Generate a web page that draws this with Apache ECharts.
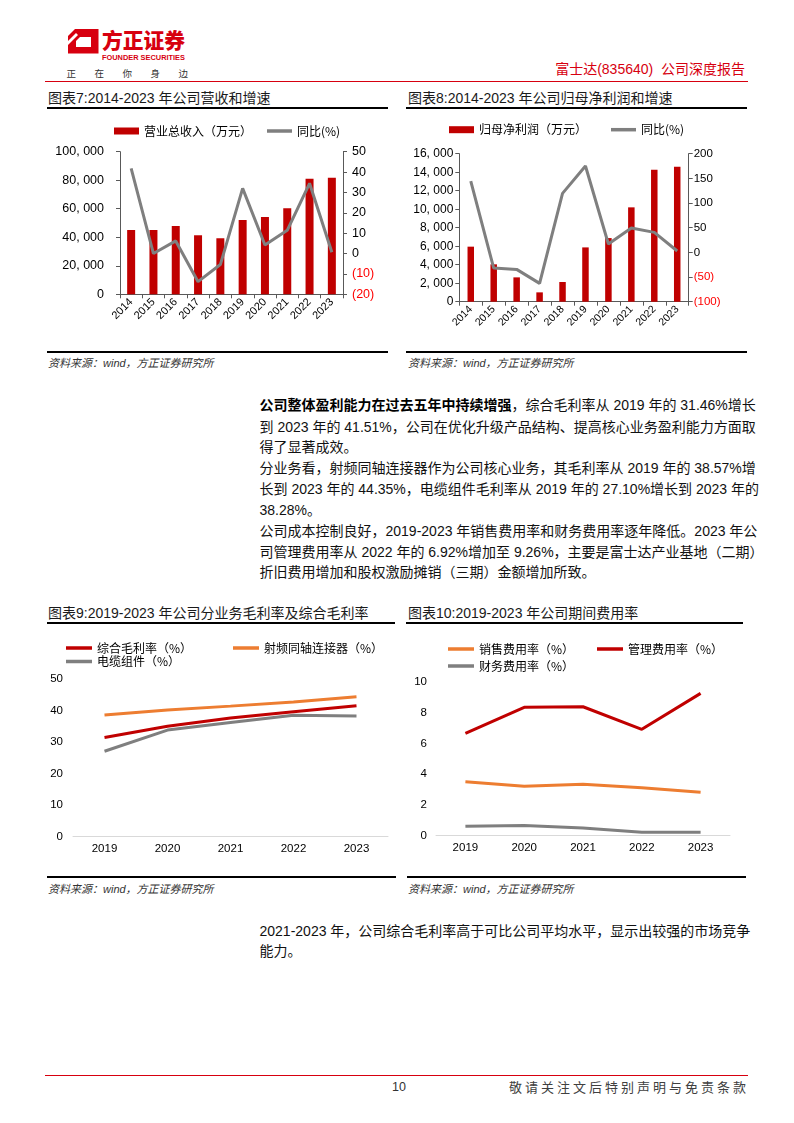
<!DOCTYPE html>
<html><head><meta charset="utf-8">
<script src="https://cdn.jsdelivr.net/npm/echarts@6/dist/echarts.min.js"></script>
<style>
html,body{margin:0;padding:0;background:#fff;}
#page{position:relative;width:794px;height:1123px;overflow:hidden;font-family:"Liberation Sans Narrow","Liberation Sans","Noto Sans CJK SC",sans-serif;color:#000;}
.abs{position:absolute;white-space:nowrap;}
.hl{position:absolute;background:#000;}
.title{font-size:14px;line-height:18px;color:#1a1a1a;}
.src{font-size:11px;font-style:italic;color:#333;line-height:14px;font-family:"Liberation Sans","Noto Sans CJK SC",sans-serif;}
.p{position:absolute;left:259.5px;width:487px;font-size:14px;line-height:20px;white-space:nowrap;text-align:justify;text-align-last:justify;color:#111;}
.p.last{text-align:left;text-align-last:left;}
.p b{font-weight:700;color:#000;}
.num{font-family:"Liberation Sans",sans-serif;}
#chart{position:absolute;left:0;top:0;width:794px;height:1123px;}
</style></head>
<body>
<div id="page">
  <svg class="abs" style="left:0;top:0" width="260" height="90">
    <polygon points="75,29 98.5,29 98.5,53.5 68,53.5 68,36" fill="#D7000F"/>
    <polygon points="80,37 91,37 91,47 76,47 76,41" fill="#fff"/>
    <polygon points="68,41 76,33 78,35 68,45" fill="#fff"/>
    <text x="102" y="48" font-size="21" font-weight="900" fill="#D7000F" textLength="83" lengthAdjust="spacingAndGlyphs" font-family="Noto Sans CJK SC">方正证券</text>
    <text x="102" y="60" font-size="7.5" font-weight="700" fill="#D7000F" textLength="83" lengthAdjust="spacingAndGlyphs" font-family="Liberation Sans">FOUNDER SECURITIES</text>
    <text y="77" font-size="9.5" fill="#333" font-family="Noto Sans CJK SC"><tspan x="66.5">正</tspan><tspan x="94.5">在</tspan><tspan x="122.5">你</tspan><tspan x="150.5">身</tspan><tspan x="178.5">边</tspan></text>
  </svg>
  <div class="abs" style="right:49px;top:60px;font-size:14px;line-height:18px;color:#D7000F;font-family:'Liberation Sans','Noto Sans CJK SC',sans-serif;">富士达(835640)&nbsp;&nbsp;公司深度报告</div>
  <div class="hl" style="left:45px;top:80.5px;width:703px;height:1.3px;background:#D7000F"></div>

  <div class="abs title" style="left:48px;top:89px">图表7:2014-2023 年公司营收和增速</div>
  <div class="abs title" style="left:408px;top:89px">图表8:2014-2023 年公司归母净利润和增速</div>
  <div class="hl" style="left:47px;top:106.7px;width:341px;height:2px"></div>
  <div class="hl" style="left:406px;top:106.7px;width:341px;height:2px"></div>

  <div class="hl" style="left:47px;top:350.7px;width:341px;height:2px"></div>
  <div class="hl" style="left:406px;top:350.7px;width:341px;height:2px"></div>
  <div class="abs src" style="left:48px;top:356px">资料来源：wind，方正证券研究所</div>
  <div class="abs src" style="left:408px;top:356px">资料来源：wind，方正证券研究所</div>

  <div class="p" style="top:395px"><b>公司整体盈利能力在过去五年中持续增强</b>，综合毛利率从 2019 年的 31.46%增长</div>
  <div class="p" style="top:416.7px">到 2023 年的 41.51%，公司在优化升级产品结构、提高核心业务盈利能力方面取</div>
  <div class="p last" style="top:437.3px">得了显著成效。</div>
  <div class="p" style="top:458.3px">分业务看，射频同轴连接器作为公司核心业务，其毛利率从 2019 年的 38.57%增</div>
  <div class="p" style="top:479.3px">长到 2023 年的 44.35%，电缆组件毛利率从 2019 年的 27.10%增长到 2023 年的</div>
  <div class="p last" style="top:500px">38.28%。</div>
  <div class="p" style="top:521px">公司成本控制良好，2019-2023 年销售费用率和财务费用率逐年降低。2023 年公</div>
  <div class="p" style="top:541.7px">司管理费用率从 2022 年的 6.92%增加至 9.26%，主要是富士达产业基地（二期）</div>
  <div class="p last" style="top:561.7px">折旧费用增加和股权激励摊销（三期）金额增加所致。</div>

  <div class="abs title" style="left:48px;top:604px">图表9:2019-2023 年公司分业务毛利率及综合毛利率</div>
  <div class="abs title" style="left:408px;top:604px">图表10:2019-2023 年公司期间费用率</div>
  <div class="hl" style="left:47px;top:622.3px;width:348px;height:2px"></div>
  <div class="hl" style="left:406px;top:622.3px;width:337px;height:2px"></div>

  <div class="hl" style="left:47px;top:876px;width:349px;height:2px"></div>
  <div class="hl" style="left:407px;top:876px;width:339px;height:2px"></div>
  <div class="abs src" style="left:48px;top:882px">资料来源：wind，方正证券研究所</div>
  <div class="abs src" style="left:408px;top:882px">资料来源：wind，方正证券研究所</div>

  <div class="p" style="top:921px">2021-2023 年，公司综合毛利率高于可比公司平均水平，显示出较强的市场竞争</div>
  <div class="p last" style="top:941px">能力。</div>

  <div class="hl" style="left:45px;top:1074.5px;width:703px;height:1.3px;background:#D7000F"></div>
  <div class="abs num" style="left:392px;top:1079px;font-size:12.5px;line-height:16px;color:#333;">10</div>
  <div class="abs" style="right:45px;top:1078px;font-size:13px;line-height:18px;letter-spacing:3px;color:#404040;font-family:'Noto Sans CJK SC',sans-serif;">敬请关注文后特别声明与免责条款</div>

  <div id="chart"></div>
</div>
<script>
// ---- data ----
const years10 = ['2014','2015','2016','2017','2018','2019','2020','2021','2022','2023'];
const revenue = [45100, 45100, 47900, 41400, 39300, 52100, 54200, 60300, 81100, 81800];
const revenueYoY = [41.8, 0.0, 6.2, -13.8, -5.4, 32.0, 4.2, 11.4, 34.5, 0.6];
const netProfit = [5950, 4040, 2630, 1010, 2130, 5870, 6880, 10200, 14270, 14600];
const netProfitYoY = [144.6, -31.8, -34.5, -62.8, 119.6, 175.0, 17.0, 49.3, 40.5, 2.7];

const years5 = ['2019','2020','2021','2022','2023'];
const grossMargin = [31.46, 35.0, 37.6, 39.6, 41.51];
const rfMargin = [38.57, 40.2, 41.4, 42.7, 44.35];
const cableMargin = [27.10, 33.8, 36.2, 38.5, 38.28];
const sellingRate = [3.51, 3.21, 3.34, 3.12, 2.82];
const adminRate = [6.66, 8.35, 8.39, 6.92, 9.26];
const financeRate = [0.61, 0.67, 0.50, 0.22, 0.22];

const revAxis = {min: 0, max: 100000, interval: 20000};
const revYoYAxis = {min: -20, max: 50, interval: 10};
const npAxis = {min: 0, max: 16000, interval: 2000};
const npYoYAxis = {min: -100, max: 200, interval: 50};
const marginAxis = {min: 0, max: 50, interval: 10};
const rateAxis = {min: 0, max: 10, interval: 2};

// ---- styles ----
const FONT = '"Liberation Sans", "Noto Sans CJK SC", sans-serif';
const CJK = '"Noto Sans CJK SC", sans-serif';
const RED = '#C00000', GRAY = '#7F7F7F', ORANGE = '#ED7D31', AX = '#595959';

function thousands(v){
  const n = Number(v);
  if (n === 0) return '0';
  return n.toLocaleString('en-US').replace(/,/g, ', ');
}
function paren(v){ const n = Number(v); return n < 0 ? '(' + (-n) + ')' : String(n); }
function parenColor(v){ return Number(v) < 0 ? '#FF0000' : '#000'; }

function lg(name, left, cy, w, h, color){
  return {show: true, left: left, top: cy - 8, padding: 0, itemWidth: w, itemHeight: h,
    icon: 'rect', itemGap: 0, selectedMode: false,
    itemStyle: {borderWidth: 0},
    data: [{name: name, itemStyle: {color: color, borderWidth: 0}}],
    textStyle: {fontSize: 12, color: '#000', fontFamily: CJK}};
}
function catAxis(grid, data, extra){
  return Object.assign({type: 'category', gridIndex: grid, data: data, boundaryGap: true,
    axisLine: {show: true, onZero: false, lineStyle: {color: AX, width: 1}},
    axisTick: {show: true, length: 4, alignWithLabel: false, lineStyle: {color: AX}},
    axisLabel: {interval: 0, rotate: 45, fontSize: 11, color: '#000', margin: 6, fontFamily: FONT},
    splitLine: {show: false}}, extra || {});
}
function valAxis(grid, r, pos, label, line){
  return {type: 'value', gridIndex: grid, position: pos, min: r.min, max: r.max, interval: r.interval,
    axisLine: {show: line, lineStyle: {color: AX, width: 1}},
    axisTick: {show: line, length: 4, inside: false, lineStyle: {color: AX}},
    splitLine: {show: false},
    axisLabel: Object.assign({fontSize: 12, color: '#000', fontFamily: FONT}, label)};
}
const flatCat = {
  axisLine: {show: true, onZero: false, lineStyle: {color: '#D9D9D9', width: 1}},
  axisTick: {show: false},
  axisLabel: {interval: 0, rotate: 0, fontSize: 11.5, color: '#000', margin: 6, fontFamily: FONT}
};
function ln(name, x, y, data, color){
  return {type: 'line', name: name, xAxisIndex: x, yAxisIndex: y, data: data, symbol: 'none',
    showSymbol: false, smooth: false, lineStyle: {color: color, width: 3}, itemStyle: {color: color}};
}

const chart = echarts.init(document.getElementById('chart'), null, {renderer: 'canvas'});
chart.setOption({
  animation: false,
  backgroundColor: 'transparent',
  grid: [
    {left: 120, top: 151.7, width: 223, height: 142.6, containLabel: false, outerBoundsMode: 'none'},
    {left: 459.3, top: 153.7, width: 229.4, height: 148, containLabel: false, outerBoundsMode: 'none'},
    {left: 73, top: 679, width: 315, height: 157.7, containLabel: false, outerBoundsMode: 'none'},
    {left: 436, top: 682, width: 294, height: 153.7, containLabel: false, outerBoundsMode: 'none'}
  ],
  legend: [
    lg('营业总收入（万元）', 114, 133, 25, 7, RED),
    lg('同比(%)', 267, 133, 25, 3.5, GRAY),
    lg('归母净利润（万元）', 449, 131.7, 25, 7, RED),
    lg('同比(%)', 611, 131.7, 25, 3.5, GRAY),
    lg('综合毛利率（%）', 66, 650, 26, 3.5, RED),
    lg('射频同轴连接器（%）', 233, 650, 26, 3.5, ORANGE),
    lg('电缆组件（%）', 66, 663.5, 26, 3.5, GRAY),
    lg('销售费用率（%）', 448, 651, 26, 3.5, ORANGE),
    lg('管理费用率（%）', 597, 651, 26, 3.5, RED),
    lg('财务费用率（%）', 448, 668, 26, 3.5, GRAY)
  ],
  xAxis: [
    catAxis(0, years10),
    catAxis(1, years10, {axisLabel: {interval: 0, rotate: 45, fontSize: 10.5, color: '#000', margin: 6, fontFamily: FONT}}),
    catAxis(2, years5, flatCat),
    catAxis(3, years5, flatCat)
  ],
  yAxis: [
    valAxis(0, revAxis, 'left', {formatter: thousands, margin: 16, fontSize: 12.5}, true),
    valAxis(0, revYoYAxis, 'right', {formatter: paren, color: parenColor, margin: 9, fontSize: 12.5}, true),
    valAxis(1, npAxis, 'left', {formatter: thousands, margin: 6, fontSize: 12}, true),
    valAxis(1, npYoYAxis, 'right', {formatter: paren, color: parenColor, margin: 5, fontSize: 11.5}, true),
    valAxis(2, marginAxis, 'left', {margin: 10, fontSize: 11.5}, false),
    valAxis(3, rateAxis, 'left', {margin: 9, fontSize: 11.5}, false)
  ],
  series: [
    {type: 'bar', name: '营业总收入（万元）', xAxisIndex: 0, yAxisIndex: 0, data: revenue, barWidth: 8, itemStyle: {color: RED}},
    ln('同比(%)', 0, 1, revenueYoY, GRAY),
    {type: 'bar', name: '归母净利润（万元）', xAxisIndex: 1, yAxisIndex: 2, data: netProfit, barWidth: 6.5, itemStyle: {color: RED}},
    ln('同比(%)', 1, 3, netProfitYoY, GRAY),
    ln('射频同轴连接器（%）', 2, 4, rfMargin, ORANGE),
    ln('电缆组件（%）', 2, 4, cableMargin, GRAY),
    ln('综合毛利率（%）', 2, 4, grossMargin, RED),
    ln('销售费用率（%）', 3, 5, sellingRate, ORANGE),
    ln('财务费用率（%）', 3, 5, financeRate, GRAY),
    ln('管理费用率（%）', 3, 5, adminRate, RED)
  ]
});
</script>
</body></html>
